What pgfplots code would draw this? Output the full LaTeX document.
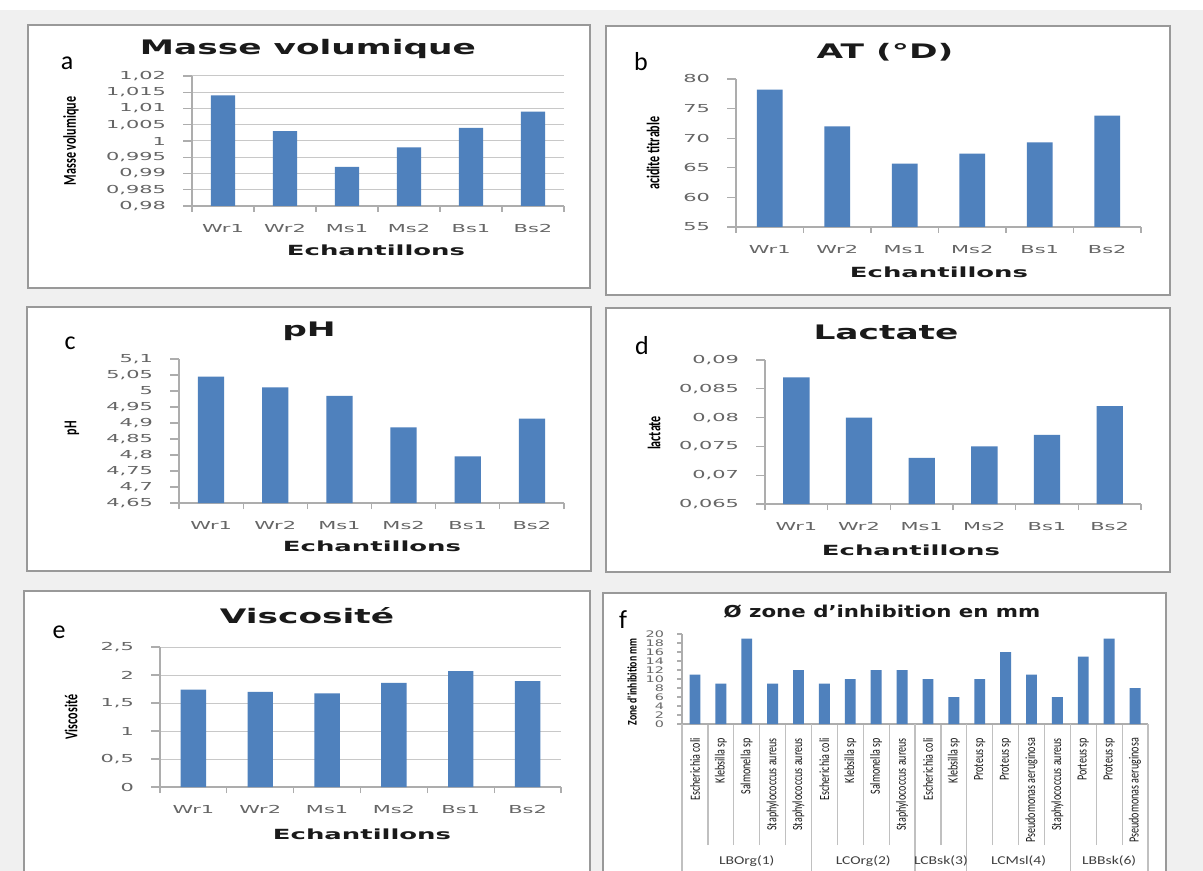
\documentclass[border=0pt]{standalone}
\usepackage{fontspec}
\usepackage{pgfplots}
\pgfplotsset{compat=1.18}
\setmainfont{DejaVu Sans}
\newfontfamily\titlef[FakeStretch=1.72]{DejaVu Sans}
\newfontfamily\axf[FakeStretch=1.85]{DejaVu Sans}
\newfontfamily\tickf[FakeStretch=1.9]{DejaVu Sans}
\newfontfamily\ylabf[FakeStretch=0.67]{Carlito}
\newfontfamily\fylabf[FakeStretch=0.75]{Carlito}
\newfontfamily\letf{Carlito}
\newfontfamily\ftitf[FakeStretch=1.3]{DejaVu Sans}
\newfontfamily\fcatf[FakeStretch=0.72]{Carlito}
\newfontfamily\ftickf[FakeStretch=1.6]{DejaVu Sans}
\newfontfamily\grpf[FakeStretch=1.3]{Carlito}
\newcommand\TitleFont{\titlef\bfseries\fontsize{10}{12}\selectfont}
\newcommand\AxFont{\axf\bfseries\fontsize{7}{8}\selectfont}
\newcommand\TickFont{\tickf\fontsize{5.5}{6.5}\selectfont}
\newcommand\YFont{\ylabf\bfseries\fontsize{9}{10}\selectfont}
\newcommand\LetFont{\letf\fontsize{13}{15}\selectfont}
\newcommand\FTitleFont{\ftitf\bfseries\fontsize{8.2}{10}\selectfont}
\newcommand\FCatFont{\fcatf\fontsize{7}{8}\selectfont}
\newcommand\FTickFont{\ftickf\fontsize{4.5}{5.5}\selectfont}
\newcommand\FYFont{\fylabf\bfseries\fontsize{6.5}{7.5}\selectfont}
\newcommand\GroupFont{\grpf\fontsize{6}{7}\selectfont}
\definecolor{bgc}{HTML}{F0F0F0}
\definecolor{bordc}{HTML}{999999}
\definecolor{barblue}{HTML}{4F81BD}
\definecolor{axisgray}{HTML}{ADADAD}
\definecolor{gridgray}{HTML}{C8C8C8}
\definecolor{tickgray}{HTML}{666666}
\definecolor{sepgray}{HTML}{C0C0C0}
\definecolor{titc}{HTML}{1A1A1A}
\pgfplotsset{
  excel/.style={
    scale only axis, ybar, anchor=south west,
    xmin=-0.5, xmax=5.5,
    xtick={0,...,5}, xticklabels={Wr1,Wr2,Ms1,Ms2,Bs1,Bs2},
    minor xtick={-0.5,0.5,...,5.5},
    axis lines*=left,
    axis line style={draw=axisgray, line width=0.6pt},
    tick align=outside, major tick length=4.5pt, minor tick length=3pt,
    major x tick style={draw=none},
    minor x tick style={draw=axisgray, line width=0.6pt},
    y tick style={draw=axisgray, line width=0.6pt},
    xticklabel style={font=\TickFont, text=tickgray},
    yticklabel style={font=\TickFont, text=tickgray, xshift=-5pt},
    xticklabel shift=1pt,
    scaled y ticks=false,
    major grid style={draw=gridgray, line width=0.5pt},
  }
}
\begin{document}
\begin{tikzpicture}
\useasboundingbox (0pt,0pt) rectangle (601.5pt,-435.5pt);
\clip (0pt,0pt) rectangle (601.5pt,-435.5pt);
\begin{scope}[x=0.5pt,y=-0.5pt]
\fill[bgc] (0,0) rectangle (1203,871);
\fill[white] (0,0) rectangle (1203,10);
\filldraw[fill=white, draw=bordc, line width=0.8pt] (28,25) rectangle (590,288);
\filldraw[fill=white, draw=bordc, line width=0.8pt] (606,26) rectangle (1170,295);
\filldraw[fill=white, draw=bordc, line width=0.8pt] (27,307) rectangle (591,571);
\filldraw[fill=white, draw=bordc, line width=0.8pt] (606,308) rectangle (1170,572);
\fill[white] (24,591) rectangle (590,871);
\draw[bordc, line width=0.8pt] (24,871) -- (24,591) -- (590,591) -- (590,871);
\fill[white] (603,593) rectangle (1166,871);
\draw[bordc, line width=0.8pt] (603,871) -- (603,593) -- (1166,593) -- (1166,871);
\end{scope}

% a
\begin{axis}[excel, at={(96pt,-103pt)}, width=186pt, height=65pt, bar width=0.39,
  ymin=0.98, ymax=1.02,
  ytick={0.98,0.985,0.99,0.995,1,1.005,1.01,1.015,1.02},
  yticklabels={{0,98},{0,985},{0,99},{0,995},{1},{1,005},{1,01},{1,015},{1,02}},
  ymajorgrids]
\addplot[fill=barblue, draw=none] coordinates {(0,1.014) (1,1.003) (2,0.992) (3,0.998) (4,1.004) (5,1.009)};
\end{axis}

% b
\begin{axis}[excel, at={(368pt,-113.5pt)}, width=202.5pt, height=74pt, bar width=0.38,
  ymin=55, ymax=80, ytick={55,60,65,70,75,80},
  yticklabels={{55},{60},{65},{70},{75},{80}}]
\addplot[fill=barblue, draw=none] coordinates {(0,78.2) (1,72.0) (2,65.7) (3,67.4) (4,69.3) (5,73.8)};
\end{axis}

% c
\begin{axis}[excel, at={(89.5pt,-251.5pt)}, width=192.5pt, height=72pt, bar width=0.41,
  ymin=4.65, ymax=5.1,
  ytick={4.65,4.7,4.75,4.8,4.85,4.9,4.95,5,5.05,5.1},
  yticklabels={{4,65},{4,7},{4,75},{4,8},{4,85},{4,9},{4,95},{5},{5,05},{5,1}}]
\addplot[fill=barblue, draw=none] coordinates {(0,5.045) (1,5.011) (2,4.985) (3,4.886) (4,4.796) (5,4.914)};
\end{axis}

% d
\begin{axis}[excel, at={(382.5pt,-252pt)}, width=188pt, height=72pt, bar width=0.42,
  ymin=0.065, ymax=0.09,
  ytick={0.065,0.07,0.075,0.08,0.085,0.09},
  yticklabels={{0,065},{0,07},{0,075},{0,08},{0,085},{0,09}}]
\addplot[fill=barblue, draw=none] coordinates {(0,0.087) (1,0.080) (2,0.073) (3,0.075) (4,0.077) (5,0.082)};
\end{axis}

% e
\begin{axis}[excel, at={(80pt,-393.5pt)}, width=200.5pt, height=70pt, bar width=0.38,
  ymin=0, ymax=2.5,
  ytick={0,0.5,1,1.5,2,2.5},
  yticklabels={{0},{0,5},{1},{1,5},{2},{2,5}},
  ymajorgrids]
\addplot[fill=barblue, draw=none] coordinates {(0,1.74) (1,1.70) (2,1.67) (3,1.86) (4,2.07) (5,1.89)};
\end{axis}

% f
\begin{axis}[scale only axis, ybar, anchor=south west, at={(341pt,-362pt)},
  width=233pt, height=45pt, bar width=0.42, clip=false,
  xmin=-0.5, xmax=17.5, ymin=0, ymax=20,
  xtick={0,...,17},
  xticklabels={Escherichia coli, Klebsilla sp, Salmonella sp, Staphylococcus aureus, Staphylococcus aureus,
    Escherichia coli, Klebsilla sp, Salmonella sp, Staphylococcus aureus,
    Escherichia coli, Klebsilla sp,
    Proteus sp, Proteus sp, Pseudomonas aeruginosa, Staphylococcus aureus,
    Porteus sp, Proteus sp, Pseudomonas aeruginosa},
  minor xtick={-0.5,0.5,...,17.5},
  extra x ticks={-0.5,4.5,8.5,10.5,14.5,17.5},
  extra x tick labels={},
  extra x tick style={major tick length=74pt, major x tick style={draw=sepgray, line width=0.6pt}},
  ytick={0,2,...,20},
  yticklabels={{0},{2},{4},{6},{8},{10},{12},{14},{16},{18},{20}},
  axis lines*=left,
  axis line style={draw=axisgray, line width=0.6pt},
  tick align=outside, major tick length=2.5pt, minor tick length=60.5pt,
  major x tick style={draw=none},
  minor x tick style={draw=sepgray, line width=0.6pt},
  y tick style={draw=axisgray, line width=0.6pt},
  xticklabel style={font=\FCatFont, text=titc, rotate=90, anchor=east},
  yticklabel style={font=\FTickFont, text=tickgray, xshift=-3pt},
  xticklabel shift=1pt]
\addplot[fill=barblue, draw=none] coordinates {(0,11) (1,9) (2,19) (3,9) (4,12) (5,9) (6,10) (7,12) (8,12) (9,10) (10,6) (11,10) (12,16) (13,11) (14,6) (15,15) (16,19) (17,8)};
\node[font=\GroupFont, text=black!75] at (axis cs:2,0) [yshift=-68.5pt] {LBOrg(1)};
\node[font=\GroupFont, text=black!75] at (axis cs:6.5,0) [yshift=-68.5pt] {LCOrg(2)};
\node[font=\GroupFont, text=black!75] at (axis cs:9.5,0) [yshift=-68.5pt] {LCBsk(3)};
\node[font=\GroupFont, text=black!75] at (axis cs:12.5,0) [yshift=-68.5pt] {LCMsl(4)};
\node[font=\GroupFont, text=black!75] at (axis cs:16,0) [yshift=-68.5pt] {LBBsk(6)};
\end{axis}

\begin{scope}[x=0.5pt,y=-0.5pt]
% a
\node[font=\TitleFont, text=titc] at (308,49) {Masse volumique};
\node[font=\LetFont] at (67,63) {a};
\node[font=\YFont, rotate=90] at (71,141) {Masse volumique};
\node[font=\AxFont, text=titc] at (376,250) {Echantillons};
% b
\node[font=\TitleFont, text=titc] at (885,52) {AT (°D)};
\node[font=\LetFont] at (641,62) {b};
\node[font=\YFont, rotate=90] at (653,153) {acidite titrable};
\node[font=\AxFont, text=titc] at (939,272) {Echantillons};
% c
\node[font=\TitleFont, text=titc] at (309,331) {pH};
\node[font=\LetFont] at (70,343) {c};
\node[font=\YFont, rotate=90] at (72,428) {pH};
\node[font=\AxFont, text=titc] at (372,546) {Echantillons};
% d
\node[font=\TitleFont, text=titc] at (886,332) {Lactate};
\node[font=\LetFont] at (642,346) {d};
\node[font=\YFont, rotate=90] at (654,433) {lactate};
\node[font=\AxFont, text=titc] at (911,550) {Echantillons};
% e
\node[font=\TitleFont, text=titc] at (307,616) {Viscosité};
\node[font=\LetFont] at (59,632) {e};
\node[font=\YFont, rotate=90] at (71,717) {Viscosité};
\node[font=\AxFont, text=titc] at (362,834) {Echantillons};
% f
\node[font=\FTitleFont, text=titc] at (882,612) {Ø zone d’inhibition en mm};
\node[font=\LetFont] at (623,620) {f};
\node[font=\FYFont, rotate=90] at (632,682) {Zone d'inhibition mm};
\end{scope}
\end{tikzpicture}
\end{document}
